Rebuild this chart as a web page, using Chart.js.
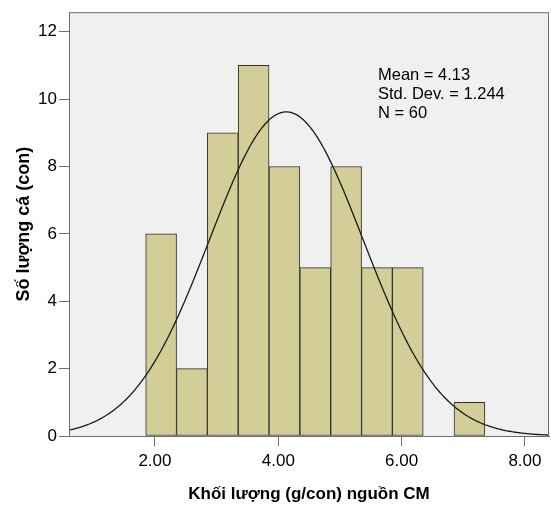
<!DOCTYPE html>
<html>
<head>
<meta charset="utf-8">
<script src="https://cdn.jsdelivr.net/npm/chart.js@4.4.1/dist/chart.umd.min.js"></script>
<style>
  html,body{margin:0;padding:0;background:#fff;}
  #wrap{width:551px;height:509px;}
</style>
</head>
<body>
<div id="wrap"><canvas id="c" width="551" height="509"></canvas></div>
<script>
// Histogram bins (centres, g/con) and counts
const binCenters = [2.10, 2.60, 3.10, 3.60, 4.10, 4.60, 5.10, 5.60, 6.10, 6.60, 7.10];
const binCounts  = [6, 2, 9, 11, 8, 5, 8, 5, 5, 0, 1];
const binWidth = 0.5;
// Summary statistics shown on the chart
const statMean = 4.13;
const statSD = 1.244;
const statN = 60;
const statLabels = ["Mean = 4.13", "Std. Dev. = 1.244", "N = 60"];
// Axis ticks
const xTicks = [2, 4, 6, 8];
const yTicks = [0, 2, 4, 6, 8, 10, 12];
const xMin = 0.606, xMax = 8.39, yMin = 0, yMax = 12.58;

// Fitted normal curve (defined by displayed mean, SD, N and bin width)
const curve = [];
for (let x = xMin; x <= xMax + 1e-9; x += 0.02) {
  const z = (x - statMean) / statSD;
  curve.push({x: x, y: statN * binWidth * Math.exp(-0.5 * z * z) / (statSD * Math.sqrt(2 * Math.PI))});
}

const FONT = "'Liberation Sans', Arial, sans-serif";

const bgPlugin = {
  id: 'bg',
  beforeDraw(chart) {
    const {ctx, chartArea: a} = chart;
    ctx.save();
    ctx.fillStyle = '#f0f0f0';
    ctx.fillRect(a.left, a.top, a.right - a.left, a.bottom - a.top);
    ctx.restore();
  },
  afterDraw(chart) {
    const {ctx, chartArea: a} = chart;
    ctx.save();
    ctx.strokeStyle = '#6e6e6e';
    ctx.lineWidth = 1;
    ctx.strokeRect(a.left + 0.5, a.top + 0.5, a.right - a.left - 1, a.bottom - a.top);
    ctx.fillStyle = '#000';
    ctx.font = '16.5px ' + FONT;
    ctx.textBaseline = 'middle';
    ctx.textAlign = 'left';
    statLabels.forEach((t, i) => ctx.fillText(t, 378, 75 + i * 19));
    ctx.restore();
  }
};

new Chart(document.getElementById('c'), {
  type: 'bar',
  data: {
    datasets: [
      {
        type: 'line',
        data: curve,
        borderColor: '#1a1a1a',
        borderWidth: 1.3,
        pointRadius: 0,
        tension: 0,
        fill: false,
        order: 0
      },
      {
        type: 'bar',
        data: binCenters.map((c, i) => ({x: c, y: binCounts[i] === 0 ? null : binCounts[i]})),
        backgroundColor: '#d3ce98',
        borderColor: '#2e2e2e',
        borderWidth: 1,
        borderSkipped: false,
        barPercentage: 1.0,
        categoryPercentage: 1.0,
        grouped: false,
        order: 1
      }
    ]
  },
  options: {
    responsive: false,
    animation: false,
    devicePixelRatio: 1,
    layout: {padding: {top: 5, right: 2, left: 0, bottom: 0}},
    plugins: {legend: {display: false}, tooltip: {enabled: false}},
    scales: {
      x: {
        type: 'linear',
        offset: false,
        min: xMin, max: xMax,
        afterBuildTicks(s) { s.ticks = xTicks.map(v => ({value: v})); },
        afterFit(s) { s.height = 73; },
        grid: {display: true, offset: false, drawOnChartArea: false, drawTicks: true, tickLength: 10, color: '#6e6e6e'},
        border: {display: true, color: '#6e6e6e'},
        ticks: {color: '#000', font: {family: FONT, size: 17}, padding: 5, maxRotation: 0,
                callback: v => Number(v).toFixed(2)},
        title: {display: true, text: 'Khối lượng (g/con) nguồn CM', color: '#000',
                font: {family: FONT, size: 17, weight: 'bold'}, padding: {top: 4, bottom: 4}}
      },
      y: {
        type: 'linear',
        min: yMin, max: yMax,
        afterBuildTicks(s) { s.ticks = yTicks.map(v => ({value: v})); },
        afterFit(s) { s.width = 69; },
        grid: {display: true, drawOnChartArea: false, drawTicks: true, tickLength: 10, color: '#6e6e6e'},
        border: {display: true, color: '#6e6e6e'},
        ticks: {color: '#000', font: {family: FONT, size: 17}, padding: 2},
        title: {display: true, text: 'Số lượng cá (con)', color: '#000',
                font: {family: FONT, size: 18, weight: 'bold'}, padding: {top: 13, bottom: 4}}
      }
    }
  },
  plugins: [bgPlugin]
});
</script>
</body>
</html>
